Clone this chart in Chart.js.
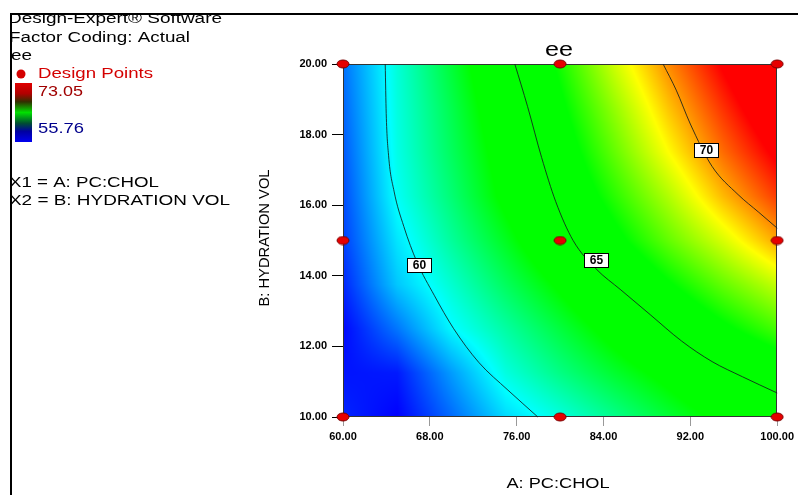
<!DOCTYPE html>
<html>
<head>
<meta charset="utf-8">
<script src="https://cdn.jsdelivr.net/npm/chart.js@4.4.1/dist/chart.umd.min.js"></script>
<style>
  html, body { margin: 0; background: #fff; }
  canvas { display: block; }
</style>
</head>
<body>
<canvas id="c" width="798" height="495"></canvas>
<script>
// A: PC:CHOL levels and B: HYDRATION VOL levels of the read grid
const A_LEVELS = [60, 65, 70, 75, 80, 85, 90, 95, 100];
const B_LEVELS = [10, 11.25, 12.5, 13.75, 15, 16.25, 17.5, 18.75, 20];
const EE_GRID = [
  [56.5, 55.9, 57.6, 59.4, 60.4, 61.5, 62.6, 63.6, 64.4],
  [56.2, 56.3, 58.4, 60.4, 61.6, 62.7, 63.7, 64.8, 65.5],
  [56.0, 57.8, 59.9, 61.2, 62.5, 63.8, 65.1, 66.1, 67.0],
  [56.5, 59.1, 60.6, 62.1, 63.5, 65.0, 66.2, 67.3, 68.3],
  [56.9, 59.6, 61.3, 62.9, 64.6, 66.0, 67.3, 68.5, 69.8],
  [57.1, 60.1, 61.8, 63.6, 65.3, 66.7, 68.1, 69.6, 70.9],
  [57.3, 60.3, 62.1, 63.9, 65.7, 67.3, 68.9, 70.4, 71.7],
  [57.5, 60.4, 62.3, 64.3, 66.1, 67.8, 69.5, 71.0, 72.4],
  [57.7, 60.5, 62.6, 64.7, 66.5, 68.4, 70.1, 71.6, 73.05],
];

// contour lines [A, B]
const CONTOUR_60 = [[63.89, 20], [63.98, 18.6], [64.2, 17.4], [64.7, 16.4], [65.6, 15.4],
  [66.8, 14.4], [68.4, 13.45], [70.2, 12.5], [72.5, 11.55], [75.2, 10.76], [77.95, 10]];
const CONTOUR_65 = [[75.83, 20], [77.0, 18.8], [78.3, 17.35], [79.6, 16.1], [81.2, 15.0],
  [83.3, 14.2], [85.6, 13.6], [88.3, 12.9], [91.2, 12.15], [94.0, 11.57], [96.8, 11.14],
  [100, 10.68]];
const CONTOUR_70 = [[89.49, 20], [90.7, 19.26], [92.0, 18.3], [94.0, 17.1], [96.4, 16.3],
  [98.3, 15.8], [100, 15.35]];
const CONTOUR_LABELS = ['60', '65', '70'];
const LABEL_AT = [[67.0, 14.31], [83.3, 14.45], [93.44, 17.56]];

const DESIGN_A = [60, 80, 100, 60, 80, 100, 60, 80, 100];
const DESIGN_B = [10, 10, 10, 15, 15, 15, 20, 20, 20];

const X_TICKS = [60, 68, 76, 84, 92, 100];
const Y_TICKS = [10, 12, 14, 16, 18, 20];
const EE_MIN = 55.76, EE_MAX = 73.05;

// blue - cyan - green - yellow - red
const COLOR_STOPS = [
  [55.9, [0, 0, 255]], [60.0, [0, 255, 255]], [63.3, [0, 255, 0]],
  [66.3, [0, 255, 0]], [68.9, [255, 255, 0]], [71.5, [255, 0, 0]],
];

const FONT = '"Liberation Sans", Arial, sans-serif';

function colorFor(v) {
  if (v <= COLOR_STOPS[0][0]) return COLOR_STOPS[0][1];
  for (let i = 1; i < COLOR_STOPS.length; i++) {
    const [v1, c1] = COLOR_STOPS[i];
    if (v <= v1) {
      const [v0, c0] = COLOR_STOPS[i - 1];
      const t = (v - v0) / (v1 - v0);
      return [0, 1, 2].map((k) => c0[k] + (c1[k] - c0[k]) * t);
    }
  }
  return COLOR_STOPS[COLOR_STOPS.length - 1][1];
}

function cellIdx(levels, v) {
  let i = 0;
  while (i < levels.length - 2 && v > levels[i + 1]) i++;
  const t = Math.min(1, Math.max(0, (v - levels[i]) / (levels[i + 1] - levels[i])));
  return [i, t];
}

// shade between the read grid values
function eeAt(a, b) {
  const [i, tx] = cellIdx(A_LEVELS, a);
  const [j, ty] = cellIdx(B_LEVELS, b);
  const v00 = EE_GRID[j][i], v10 = EE_GRID[j][i + 1];
  const v01 = EE_GRID[j + 1][i], v11 = EE_GRID[j + 1][i + 1];
  return (v00 * (1 - tx) + v10 * tx) * (1 - ty) + (v01 * (1 - tx) + v11 * tx) * ty;
}

function fitText(ctx, text, x, y, width, align) {
  const w = ctx.measureText(text).width;
  const s = width / w;
  ctx.save();
  ctx.translate(x, y);
  ctx.scale(s, 1);
  ctx.textAlign = align || 'left';
  ctx.fillText(text, 0, 0);
  ctx.restore();
}

// oval red marker like Design-Expert's design points
const dot = document.createElement('canvas');
dot.width = 14; dot.height = 10;
(() => {
  const g = dot.getContext('2d');
  g.beginPath();
  g.ellipse(7, 5, 6, 4, 0, 0, Math.PI * 2);
  g.fillStyle = '#e60000';
  g.fill();
  g.lineWidth = 1;
  g.strokeStyle = '#7a0000';
  g.stroke();
})();

const heatmap = {
  id: 'heatmap',
  beforeDatasetsDraw(chart) {
    const { ctx, chartArea: ca, scales } = chart;
    const l = Math.round(ca.left), t = Math.round(ca.top);
    const w = Math.round(ca.right) - l, h = Math.round(ca.bottom) - t;
    const img = ctx.createImageData(w, h);
    for (let py = 0; py < h; py++) {
      const b = scales.y.getValueForPixel(t + py + 0.5);
      for (let px = 0; px < w; px++) {
        const a = scales.x.getValueForPixel(l + px + 0.5);
        const c = colorFor(eeAt(a, b));
        const o = (py * w + px) * 4;
        img.data[o] = c[0]; img.data[o + 1] = c[1]; img.data[o + 2] = c[2]; img.data[o + 3] = 255;
      }
    }
    ctx.putImageData(img, l, t);
    ctx.save();
    ctx.strokeStyle = '#333';
    ctx.lineWidth = 1;
    ctx.strokeRect(l + 0.5, t + 0.5, w - 1, h - 1);
    ctx.restore();
  },
};

const contourLabels = {
  id: 'contourLabels',
  afterDatasetsDraw(chart) {
    const { ctx, scales } = chart;
    ctx.save();
    ctx.font = 'bold 12px ' + FONT;
    ctx.textAlign = 'center';
    ctx.textBaseline = 'middle';
    CONTOUR_LABELS.forEach((txt, i) => {
      const x = Math.round(scales.x.getPixelForValue(LABEL_AT[i][0]));
      const y = Math.round(scales.y.getPixelForValue(LABEL_AT[i][1]));
      ctx.fillStyle = '#fff';
      ctx.fillRect(x - 12 + 0.5, y - 7 + 0.5, 24, 14);
      ctx.strokeStyle = '#000';
      ctx.lineWidth = 1;
      ctx.strokeRect(x - 12 + 0.5, y - 7 + 0.5, 24, 14);
      ctx.fillStyle = '#000';
      ctx.fillText(txt, x + 0.5, y + 1);
    });
    ctx.restore();
  },
};

const annotations = {
  id: 'annotations',
  afterDraw(chart) {
    const { ctx } = chart;
    ctx.save();
    // side panel text, clipped by the frame
    ctx.save();
    ctx.beginPath();
    ctx.rect(12, 15, 300, 200);
    ctx.clip();
    ctx.font = '14px ' + FONT;
    ctx.textBaseline = 'middle';
    ctx.fillStyle = '#000';
    fitText(ctx, 'Design-Expert\u00AE Software', 8, 19, 214);
    fitText(ctx, 'Factor Coding: Actual', 9, 38, 181);
    fitText(ctx, 'ee', 11, 56, 21);
    fitText(ctx, 'X1 = A: PC:CHOL', 9, 183, 150);
    fitText(ctx, 'X2 = B: HYDRATION VOL', 9, 201, 221);
    ctx.fillStyle = '#d40000';
    fitText(ctx, 'Design Points', 38, 74, 115);
    ctx.beginPath();
    ctx.arc(21, 74, 4.5, 0, Math.PI * 2);
    ctx.fill();
    ctx.fillStyle = '#a00000';
    fitText(ctx, EE_MAX.toFixed(2), 38, 92, 45);
    ctx.fillStyle = '#00008c';
    fitText(ctx, EE_MIN.toFixed(2), 38, 129, 46);
    const g = ctx.createLinearGradient(0, 83, 0, 142);
    g.addColorStop(0, '#e00000');
    g.addColorStop(0.18, '#b00000');
    g.addColorStop(0.32, '#303000');
    g.addColorStop(0.5, '#00e000');
    g.addColorStop(0.68, '#005030');
    g.addColorStop(0.82, '#0000a0');
    g.addColorStop(1, '#0000f0');
    ctx.fillStyle = g;
    ctx.fillRect(15, 83, 17, 59);
    ctx.restore();

    // title and axis titles
    ctx.fillStyle = '#000';
    ctx.textBaseline = 'middle';
    ctx.font = '21px ' + FONT;
    fitText(ctx, 'ee', 559, 50, 28, 'center');
    ctx.font = '14px ' + FONT;
    fitText(ctx, 'A: PC:CHOL', 558, 484, 103, 'center');
    ctx.save();
    ctx.translate(265, 238);
    ctx.rotate(-Math.PI / 2);
    fitText(ctx, 'B: HYDRATION VOL', 0, 0, 137, 'center');
    ctx.restore();

    // outer frame
    ctx.strokeStyle = '#000';
    ctx.lineWidth = 2;
    ctx.beginPath();
    ctx.moveTo(11, 495);
    ctx.lineTo(11, 14);
    ctx.lineTo(798, 14);
    ctx.stroke();
    ctx.restore();
  },
};

const toPts = (arr) => arr.map(([x, y]) => ({ x, y }));
const contourStyle = {
  showLine: true, borderColor: 'rgba(20,30,30,0.85)', borderWidth: 1,
  pointRadius: 0, cubicInterpolationMode: 'monotone', fill: false, clip: false,
};

new Chart(document.getElementById('c'), {
  type: 'scatter',
  data: {
    datasets: [
      { data: toPts(CONTOUR_60), ...contourStyle },
      { data: toPts(CONTOUR_65), ...contourStyle },
      { data: toPts(CONTOUR_70), ...contourStyle },
      {
        data: DESIGN_A.map((a, i) => ({ x: a, y: DESIGN_B[i] })),
        pointStyle: dot, pointRadius: 6, showLine: false, clip: false,
      },
    ],
  },
  options: {
    responsive: false, animation: false,
    layout: { padding: { left: 283, right: 16, top: 64, bottom: 48 } },
    plugins: { legend: { display: false }, tooltip: { enabled: false } },
    scales: {
      x: {
        type: 'linear', min: 60, max: 100,
        afterBuildTicks: (s) => { s.ticks = X_TICKS.map((v) => ({ value: v })); },
        afterFit: (s) => { s.height = 30; },
        ticks: { callback: (v) => Number(v).toFixed(2), color: '#000', font: { family: FONT, size: 11, weight: 'bold' }, padding: 4, maxRotation: 0 },
        grid: { drawOnChartArea: false, tickLength: 9, color: '#999' },
        border: { display: false },
      },
      y: {
        type: 'linear', min: 10, max: 20,
        afterBuildTicks: (s) => { s.ticks = Y_TICKS.map((v) => ({ value: v })); },
        afterFit: (s) => { s.width = 60; },
        ticks: { callback: (v) => Number(v).toFixed(2), color: '#000', font: { family: FONT, size: 11, weight: 'bold' }, padding: 5 },
        grid: { drawOnChartArea: false, tickLength: 11, color: '#000' },
        border: { display: false },
      },
    },
  },
  plugins: [heatmap, contourLabels, annotations],
});
</script>
</body>
</html>
